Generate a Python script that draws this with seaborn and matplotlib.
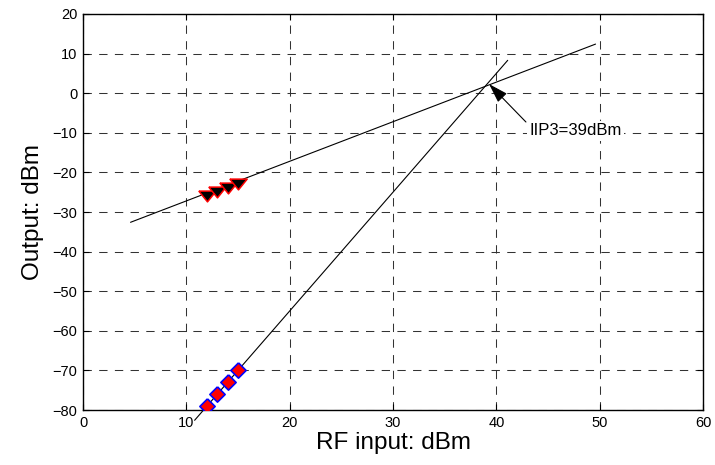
import numpy as np
import matplotlib
matplotlib.use("Agg")
import matplotlib.pyplot as plt
import seaborn as sns

# Two-tone measurement: RF input power vs. output power (dBm)
rf_input = [12, 13, 14, 15]
fundamental_out = [-26, -25, -24, -23]
im3_out = [-79, -76, -73, -70]

# Extrapolated fits: slope / intercept and drawn x-extent
fund_slope, fund_intercept = 1.0, -37.2
fund_span = [4.6, 49.6]
im3_slope, im3_intercept = 3.0, -115.0
im3_span = [10.8, 41.1]

iip3 = 39
iip3_label = "IIP3=39dBm"

x_ticks = [0, 10, 20, 30, 40, 50, 60]
y_ticks = [-80, -70, -60, -50, -40, -30, -20, -10, 0, 10, 20]

sns.set_style("white")
plt.rcParams["font.family"] = ["Liberation Sans", "DejaVu Sans"]
plt.rcParams["lines.scale_dashes"] = False
plt.rcParams["text.color"] = "black"
plt.rcParams["axes.labelcolor"] = "black"

fig = plt.figure(figsize=(7.15, 4.65), dpi=100)
ax = fig.add_axes([83 / 715, 1 - 410 / 465, 620 / 715, 396 / 465])

# fit lines
fx = np.array(fund_span)
sns.lineplot(x=fx, y=fund_slope * fx + fund_intercept, ax=ax, color="black",
             linewidth=0.8, clip_on=False, zorder=3)
ix = np.array(im3_span)
sns.lineplot(x=ix, y=im3_slope * ix + im3_intercept, ax=ax, color="black",
             linewidth=0.8, clip_on=False, zorder=3)

# measured points
tri_down = [(-1.0, 0.62), (1.0, 0.62), (0.0, -0.62), (-1.0, 0.62)]
diamond = [(0.0, 1.0), (1.0, 0.0), (0.0, -1.0), (-1.0, 0.0), (0.0, 1.0)]
sns.scatterplot(x=rf_input, y=fundamental_out, ax=ax, marker=tri_down, s=12.5 ** 2,
                color="black", edgecolor="red", linewidth=1.1, zorder=4)
sns.scatterplot(x=rf_input, y=im3_out, ax=ax, marker=diamond, s=11 ** 2,
                color="red", edgecolor="blue", linewidth=1.2, zorder=4)

# intercept annotation
ix3 = (im3_intercept - fund_intercept) / (fund_slope - im3_slope)
iy3 = fund_slope * ix3 + fund_intercept
ax.annotate(iip3_label, xy=(iip3 + 0.3, iy3 + 0.6), xytext=(43.2, -9.5),
            fontsize=12, ha="left", va="center", color="black", zorder=5,
            bbox=dict(boxstyle="square,pad=0.15", facecolor="white",
                      edgecolor="none"),
            arrowprops=dict(arrowstyle="-|>,head_length=1.2,head_width=0.38",
                            mutation_scale=10, color="black", lw=0.8,
                            shrinkA=1, shrinkB=0, relpos=(0, 0.85)))

ax.set_xlim(0, 60)
ax.set_ylim(-80, 20)
ax.set_xticks(x_ticks)
ax.set_yticks(y_ticks)
ax.grid(True, color="0.2", linewidth=0.75, linestyle=(0, (6, 5.3)))
ax.set_axisbelow(True)
for s in ax.spines.values():
    s.set_visible(True)
    s.set_color("black")
    s.set_linewidth(1.0)
ax.tick_params(direction="in", length=4.5, width=0.8, color="black",
               labelsize=10.5, labelcolor="black", top=True, right=True,
               bottom=True, left=True, pad=4)
ax.set_xlabel("RF input: dBm", fontsize=17.5, labelpad=2)
ax.set_ylabel("Output: dBm", fontsize=17.5, labelpad=6)

fig.savefig("out.png", dpi=100)
